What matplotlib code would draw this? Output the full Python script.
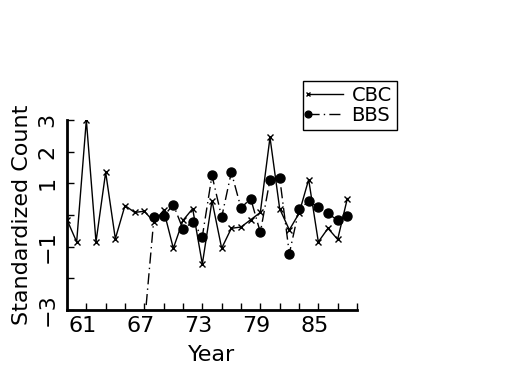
import numpy as np
import matplotlib
matplotlib.use("Agg")
import matplotlib.pyplot as plt
from matplotlib.lines import Line2D
from matplotlib.legend_handler import HandlerLine2D
import matplotlib.transforms as mtransforms

#Donnees
cbc_years=list(range(59,89))
cbc_values=[-0.15,-0.85,3.0,-0.85,1.35,-0.75,0.3,0.08,0.12,-0.22,0.15,-1.05,-0.17,0.2,-1.55,
            0.45,-1.05,-0.42,-0.38,-0.15,0.08,2.45,0.2,-0.47,0.05,1.12,-0.85,-0.42,-0.77,0.52]

bbs_years=list(range(67,89))
bbs_values=[-3.5,-0.07,-0.04,0.33,-0.45,-0.22,-0.68,1.25,-0.07,1.35,0.22,0.52,-0.55,1.12,
            1.18,-1.22,0.18,0.43,0.25,0.05,-0.17,-0.04]

xticks=list(range(61,90,2))
xlabels=['61','','','67','','','73','','','79','','','85','','']
yticks=[-3,-2,-1,0,1,2,3]
ylabels=['\u22123','','\u22121','','1','2','3']

#Marqueur seulement au debut de la ligne dans la legende
class LeftMarker(HandlerLine2D):
    def create_artists(self,legend,orig_handle,xdescent,ydescent,width,height,fontsize,trans):
        xdata=np.array([-xdescent,-xdescent+width])
        ydata=np.full_like(xdata,(height-ydescent)/2)
        legline=Line2D(xdata,ydata)
        self.update_prop(legline,orig_handle,legend)
        legline.set_markevery([0])
        legline.set_markersize(orig_handle.get_markersize()*0.75)
        legline.set_transform(trans)
        return [legline]

plt.rcParams['font.family']='DejaVu Sans'

fig=plt.figure(figsize=(5.25,3.75),dpi=100)
ax=fig.add_axes([67/525,1-310/375,(357-67)/525,(310-120)/375])

ax.plot(cbc_years,cbc_values,color='black',linewidth=1,marker='x',markersize=4.5,
        markeredgewidth=1,label='CBC')
ax.plot(bbs_years,bbs_values,color='black',linewidth=1,linestyle=(0,(8,3,1,3)),
        marker='o',markersize=6.5,label='BBS')

ax.set_xlim(59,89)
ax.set_ylim(-3,3)
ax.set_xticks(xticks)
ax.set_xticklabels(xlabels,fontsize=16)
ax.set_yticks(yticks)
ax.set_yticklabels(ylabels,fontsize=16,rotation=90,va='center')
ax.tick_params(direction='in',length=5,width=1,pad=4)
ax.tick_params(axis='y',pad=7)

#Decalage des etiquettes de x vers la gauche
offset=mtransforms.ScaledTranslation(-4/100,0,fig.dpi_scale_trans)
for lab in ax.get_xticklabels():
    lab.set_transform(lab.get_transform()+offset)

for side in ['top','right']:
    ax.spines[side].set_visible(False)
for side in ['left','bottom']:
    ax.spines[side].set_linewidth(2)

ax.set_xlabel('Year',fontsize=16,labelpad=7)
ax.set_ylabel('Standardized Count',fontsize=16,labelpad=4)

leg=fig.legend(handler_map={Line2D:LeftMarker()},loc='upper left',
               bbox_to_anchor=(303/525,1-81/375),fontsize=14,frameon=True,
               fancybox=False,edgecolor='black',framealpha=1,handlelength=1.8,
               handletextpad=0.45,borderpad=0.25,labelspacing=0.05,borderaxespad=0)
leg.get_frame().set_linewidth(1)

fig.savefig('out.png',dpi=100)
